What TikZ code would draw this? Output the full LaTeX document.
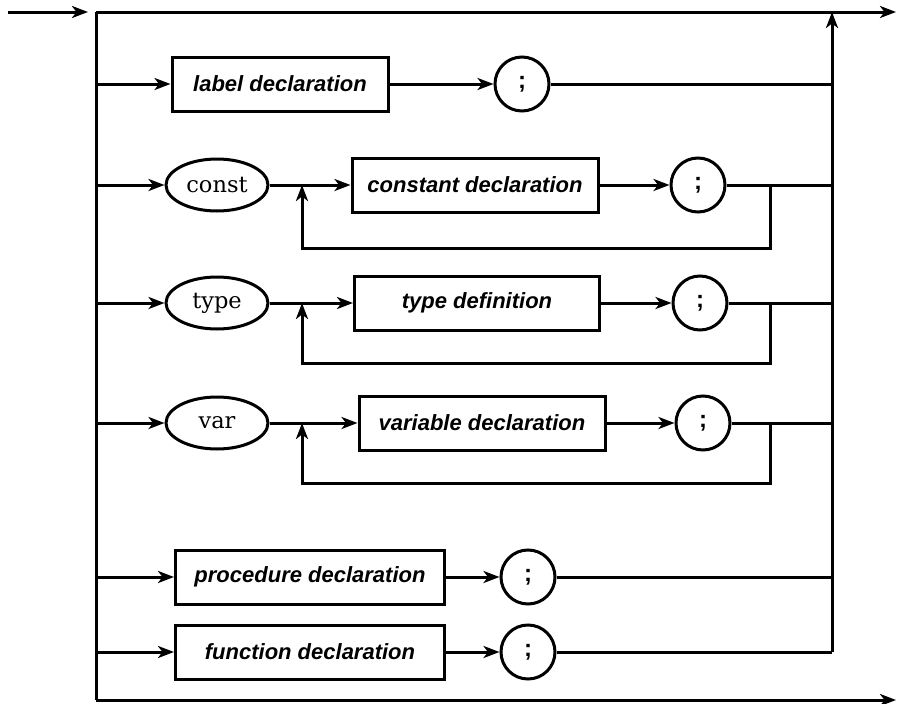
\documentclass[tikz,border=0pt]{standalone}
\usepackage{fontspec}
\setmainfont{DejaVu Serif}
\setsansfont{Liberation Sans}
\usetikzlibrary{arrows.meta,shapes.geometric}

\tikzset{
  decl/.style={draw, rectangle, minimum height=54pt, inner sep=0pt,
    font=\sffamily\bfseries\itshape\fontsize{22}{26}\selectfont},
  word/.style={draw, ellipse, minimum width=102pt, minimum height=52pt, inner sep=0pt,
    font=\fontsize{22.5}{26}\selectfont},
  semi/.style={draw, circle, minimum size=54pt, inner sep=0pt,
    font=\sffamily\bfseries\fontsize{24}{28}\selectfont},
  flow/.style={-{Stealth[length=16pt,width=12pt,inset=4.5pt]}}
}

\begin{document}
\begin{tikzpicture}[x=1pt, y=-1pt, line width=3pt]
\useasboundingbox (0,0) rectangle (897,704);

	\coordinate (start) at (8,12);
	\coordinate (entry) at (88,12);
	\coordinate (tl) at (96,12);
	\coordinate (bl) at (96,700);
	\coordinate (tr) at (896,12);
	\coordinate (br) at (896,700);
	\coordinate (exit) at (832,12);

	% frame
	\draw[flow] (start) -- (entry);
	\draw[flow] (tl) -- (tr);
	\draw (tl) -- (bl);
	\draw[flow] (bl) -- (br);

	% label part
	\node[decl, minimum width=216pt] (lab) at (280,84) {label declaration};
	\node[semi] (s1) at (522,84) {;};
	\draw[flow] (tl |- lab) -- (lab);
	\draw[flow] (lab) -- (s1);
	\draw (s1) -- (exit |- s1);

	% const part
	\coordinate (cjoin) at (302,185);
	\coordinate (cback) at (770,248);
	\node[word] (con) at (217,185) {const};
	\node[decl, minimum width=246pt] (cdec) at (475,185) {constant declaration};
	\node[semi] (s2) at (698,185) {;};
	\draw[flow] (tl |- con) -- (con);
	\draw[flow] (con) -- (cdec);
	\draw[flow] (cdec) -- (s2);
	\draw (s2) -- (exit |- s2);
	\draw[flow] (cback |- s2) -- (cback) -| (cjoin);

	% type part
	\coordinate (tjoin) at (302,303);
	\coordinate (tback) at (770,363);
	\node[word] (typ) at (217,303) {type};
	\node[decl, minimum width=245pt] (tdef) at (477,303) {type definition};
	\node[semi] (s3) at (700,303) {;};
	\draw[flow] (tl |- typ) -- (typ);
	\draw[flow] (typ) -- (tdef);
	\draw[flow] (tdef) -- (s3);
	\draw (s3) -- (exit |- s3);
	\draw[flow] (tback |- s3) -- (tback) -| (tjoin);

	% var part
	\coordinate (vjoin) at (302,423);
	\coordinate (vback) at (770,483);
	\node[word] (var) at (217,423) {var};
	\node[decl, minimum width=246pt] (vdec) at (482,423) {variable declaration};
	\node[semi] (s4) at (703,423) {;};
	\draw[flow] (tl |- var) -- (var);
	\draw[flow] (var) -- (vdec);
	\draw[flow] (vdec) -- (s4);
	\draw (s4) -- (exit |- s4);
	\draw[flow] (vback |- s4) -- (vback) -| (vjoin);

	% procedures and functions
	\node[decl, minimum width=269pt] (proc) at (310,577) {procedure declaration};
	\node[semi] (s5) at (528,577) {;};
	\node[decl, minimum width=269pt] (func) at (310,652) {function declaration};
	\node[semi] (s6) at (528,652) {;};
	\draw[flow] (tl |- proc) -- (proc);
	\draw[flow] (proc) -- (s5);
	\draw (s5) -- (exit |- s5);
	\draw[flow] (tl |- func) -- (func);
	\draw[flow] (func) -- (s6);
	\draw (s6) -- (exit |- s6);

	% way out
	\draw[flow] (exit |- s6) -- (exit);

\end{tikzpicture}
\end{document}
